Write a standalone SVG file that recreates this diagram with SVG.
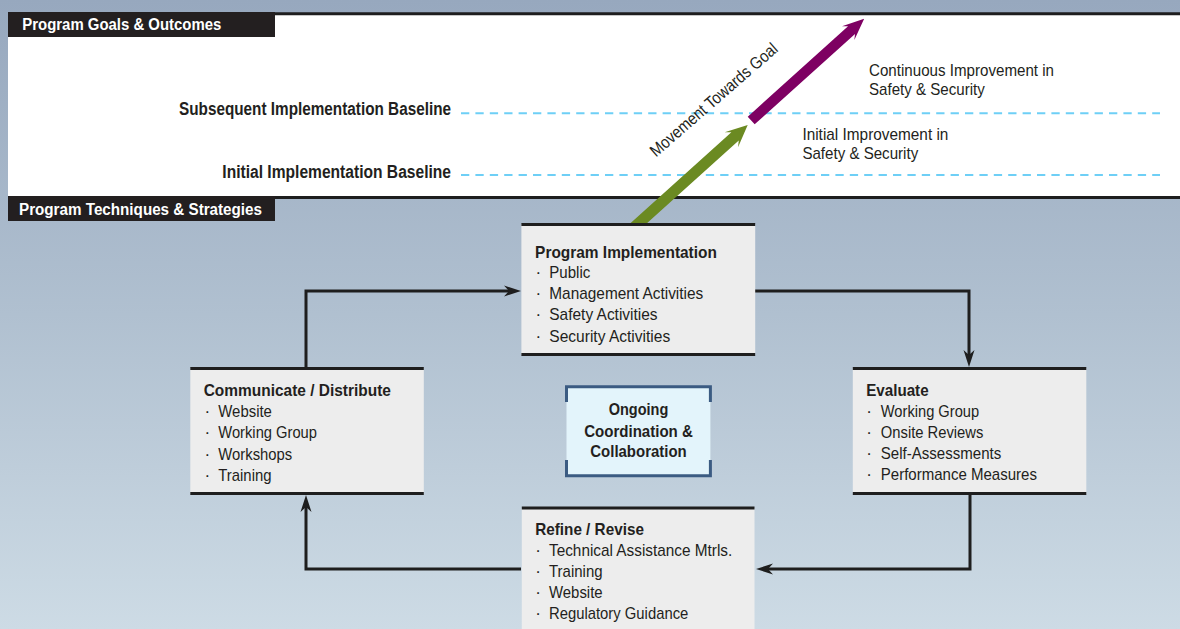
<svg xmlns="http://www.w3.org/2000/svg" width="1180" height="629" viewBox="0 0 1180 629">
<defs>
<linearGradient id="bg" x1="0" y1="0" x2="0" y2="1">
<stop offset="0" stop-color="#97a8be"/>
<stop offset="0.5" stop-color="#b0c0d0"/>
<stop offset="1" stop-color="#cddbe5"/>
</linearGradient>
<marker id="ah" markerUnits="userSpaceOnUse" viewBox="0 -6 17 12" markerWidth="17" markerHeight="12" refX="5" refY="0" orient="auto">
<path d="M0,-5.5 L17,0 L0,5.5 L5,0 Z" fill="#1e1e1e"/>
</marker>
<style>
text{font-family:"Liberation Sans",Arial,sans-serif;fill:#231f20}
.lbl{font-weight:bold;font-size:16px;fill:#fff}
.bl{font-weight:bold;font-size:18px}
.t{font-size:17px}
.h{font-weight:bold;font-size:17px}
.c{font-weight:bold;font-size:17px;text-anchor:middle}
.box{fill:#ededed}
.bd{stroke:#1e1e1e;stroke-width:3}
.dash{stroke:#6ecff6;stroke-width:2;stroke-dasharray:8.3 6.1;fill:none}
.conn{fill:none;stroke:#1e1e1e;stroke-width:3}
</style>
</defs>
<rect width="1180" height="629" fill="url(#bg)"/>
<g id="goals-panel">
<rect x="8" y="13.5" width="1180" height="184" fill="#fff"/>
<line x1="8" y1="13.8" x2="1180" y2="13.8" class="bd"/>
<line x1="8" y1="197.6" x2="1180" y2="197.6" class="bd"/>
<line x1="461" y1="113.2" x2="1160" y2="113.2" class="dash"/>
<line x1="461" y1="175" x2="1160" y2="175" class="dash"/>
<rect x="8" y="12" width="267" height="25" fill="#231f20"/>
<text class="lbl" x="22.3" y="30" textLength="199" lengthAdjust="spacingAndGlyphs">Program Goals &amp; Outcomes</text>
<rect x="8" y="196" width="267" height="25" fill="#231f20"/>
<text class="lbl" x="19" y="214.5" textLength="243" lengthAdjust="spacingAndGlyphs">Program Techniques &amp; Strategies</text>
<text class="bl" x="179" y="115" textLength="272" lengthAdjust="spacingAndGlyphs">Subsequent Implementation Baseline</text>
<text class="bl" x="222.3" y="177.5" textLength="228.7" lengthAdjust="spacingAndGlyphs">Initial Implementation Baseline</text>
<text class="t" x="869" y="75.5" textLength="185" lengthAdjust="spacingAndGlyphs">Continuous Improvement in</text>
<text class="t" x="869" y="95" textLength="115.8" lengthAdjust="spacingAndGlyphs">Safety &amp; Security</text>
<text class="t" x="802.4" y="139.5" textLength="146" lengthAdjust="spacingAndGlyphs">Initial Improvement in</text>
<text class="t" x="802.4" y="159" textLength="115.8" lengthAdjust="spacingAndGlyphs">Safety &amp; Security</text>
<text class="t" transform="translate(656,157.5) rotate(-41)" x="0" y="0" textLength="163" lengthAdjust="spacingAndGlyphs">Movement Towards Goal</text>
</g>
<g id="goal-arrows">
<polygon transform="translate(628.8,232.1) rotate(-42)" points="0,-5.5 143,-5.5 138,-10 160,0 138,10 143,5.5 0,5.5" fill="#6b8a22"/>
<polygon transform="translate(751.2,120.5) rotate(-42)" points="0,-5.2 135,-5.2 130.5,-9.2 152,0 130.5,9.2 135,5.2 0,5.2" fill="#7e0062"/>
</g>
<g id="connectors">
<path class="conn" d="M306,367 V291 H509" marker-end="url(#ah)"/>
<path class="conn" d="M755,291 H969 V355" marker-end="url(#ah)"/>
<path class="conn" d="M970,495 V569 H768" marker-end="url(#ah)"/>
<path class="conn" d="M521,569 H306 V507" marker-end="url(#ah)"/>
</g>
<g id="program-implementation">
<rect class="box" x="521.4" y="224" width="233.8" height="131"/>
<line class="bd" x1="521.4" y1="224.5" x2="755.2" y2="224.5"/>
<line class="bd" x1="521.4" y1="354.5" x2="755.2" y2="354.5"/>
<text class="h" x="535.1" y="257.5" textLength="181.8" lengthAdjust="spacingAndGlyphs">Program Implementation</text>
<text class="t" x="535.5" y="278">·</text><text class="t" x="549.3" y="278" textLength="41" lengthAdjust="spacingAndGlyphs">Public</text>
<text class="t" x="535.5" y="299.3">·</text><text class="t" x="549.3" y="299.3" textLength="153.9" lengthAdjust="spacingAndGlyphs">Management Activities</text>
<text class="t" x="535.5" y="320.3">·</text><text class="t" x="549.3" y="320.3" textLength="108.3" lengthAdjust="spacingAndGlyphs">Safety Activities</text>
<text class="t" x="535.5" y="341.6">·</text><text class="t" x="549.3" y="341.6" textLength="120.9" lengthAdjust="spacingAndGlyphs">Security Activities</text>
</g>
<g id="communicate">
<rect class="box" x="190.3" y="368" width="233.5" height="126"/>
<line class="bd" x1="190.3" y1="368.6" x2="423.8" y2="368.6"/>
<line class="bd" x1="190.3" y1="493.6" x2="423.8" y2="493.6"/>
<text class="h" x="203.7" y="396" textLength="187.2" lengthAdjust="spacingAndGlyphs">Communicate / Distribute</text>
<text class="t" x="204.4" y="417">·</text><text class="t" x="218.3" y="417" textLength="53.6" lengthAdjust="spacingAndGlyphs">Website</text>
<text class="t" x="204.4" y="438.3">·</text><text class="t" x="218.3" y="438.3" textLength="98.7" lengthAdjust="spacingAndGlyphs">Working Group</text>
<text class="t" x="204.4" y="459.8">·</text><text class="t" x="218.3" y="459.8" textLength="73.9" lengthAdjust="spacingAndGlyphs">Workshops</text>
<text class="t" x="204.4" y="481">·</text><text class="t" x="218.3" y="481" textLength="53.2" lengthAdjust="spacingAndGlyphs">Training</text>
</g>
<g id="ongoing">
<rect x="566.5" y="386.7" width="143.9" height="89" fill="#e3f4fb"/>
<path d="M566.5,402 V386.7 H710.4 V402 M566.5,460 V475.7 H710.4 V460" fill="none" stroke="#3b5b82" stroke-width="3"/>
<text class="c" x="638.5" y="415" textLength="59.7" lengthAdjust="spacingAndGlyphs">Ongoing</text>
<text class="c" x="638.5" y="436.5" textLength="108.7" lengthAdjust="spacingAndGlyphs">Coordination &amp;</text>
<text class="c" x="638.5" y="457.3" textLength="96.4" lengthAdjust="spacingAndGlyphs">Collaboration</text>
</g>
<g id="evaluate">
<rect class="box" x="852.8" y="368" width="233.5" height="126"/>
<line class="bd" x1="852.8" y1="368.6" x2="1086.3" y2="368.6"/>
<line class="bd" x1="852.8" y1="493.6" x2="1086.3" y2="493.6"/>
<text class="h" x="866.2" y="395.7" textLength="62.4" lengthAdjust="spacingAndGlyphs">Evaluate</text>
<text class="t" x="866.3" y="416.7">·</text><text class="t" x="880.8" y="416.7" textLength="98.3" lengthAdjust="spacingAndGlyphs">Working Group</text>
<text class="t" x="866.3" y="437.5">·</text><text class="t" x="880.8" y="437.5" textLength="102.6" lengthAdjust="spacingAndGlyphs">Onsite Reviews</text>
<text class="t" x="866.3" y="459">·</text><text class="t" x="880.8" y="459" textLength="120.5" lengthAdjust="spacingAndGlyphs">Self-Assessments</text>
<text class="t" x="866.3" y="480">·</text><text class="t" x="880.8" y="480" textLength="156.1" lengthAdjust="spacingAndGlyphs">Performance Measures</text>
</g>
<g id="refine">
<rect class="box" x="521.8" y="508" width="232.7" height="130"/>
<line class="bd" x1="521.8" y1="508" x2="754.5" y2="508"/>
<text class="h" x="535.2" y="535" textLength="108.7" lengthAdjust="spacingAndGlyphs">Refine / Revise</text>
<text class="t" x="535.3" y="555.7">·</text><text class="t" x="549" y="555.7" textLength="183.3" lengthAdjust="spacingAndGlyphs">Technical Assistance Mtrls.</text>
<text class="t" x="535.3" y="577.3">·</text><text class="t" x="549" y="577.3" textLength="53.6" lengthAdjust="spacingAndGlyphs">Training</text>
<text class="t" x="535.3" y="598.3">·</text><text class="t" x="549" y="598.3" textLength="53.6" lengthAdjust="spacingAndGlyphs">Website</text>
<text class="t" x="535.3" y="619.3">·</text><text class="t" x="549" y="619.3" textLength="139.3" lengthAdjust="spacingAndGlyphs">Regulatory Guidance</text>
</g>
</svg>
